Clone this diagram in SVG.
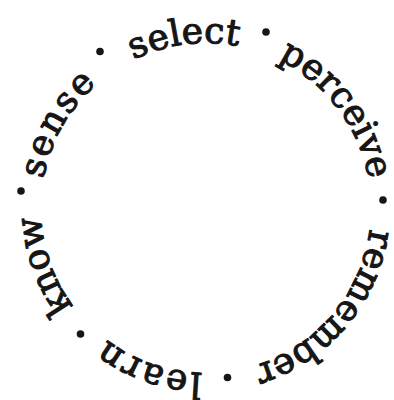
<svg xmlns="http://www.w3.org/2000/svg" xmlns:xlink="http://www.w3.org/1999/xlink" width="394" height="400" viewBox="0 0 394 400">
<style>
.w{font-family:"DejaVu Serif","Liberation Serif",serif;font-size:36px;fill:#161616;stroke:#161616;stroke-width:1.1px;stroke-linejoin:round;text-anchor:middle}
.wide{letter-spacing:2px}
.d{fill:#161616}
</style>
<defs>
<path id="ring" d="M 41,208 A 165,165 0 0,1 371,208 A 165,165 0 0,1 41,208"/>
</defs>
<rect width="394" height="400" fill="#ffffff"/>
<g id="sense"><text class="w wide"><textPath href="#ring" xlink:href="#ring" startOffset="85.4">sense</textPath></text></g>
<g id="select"><text class="w"><textPath href="#ring" xlink:href="#ring" startOffset="237.9">select</textPath></text></g>
<g id="perceive"><text class="w"><textPath href="#ring" xlink:href="#ring" startOffset="411.5">perceive</textPath></text></g>
<g id="remember"><text class="w"><textPath href="#ring" xlink:href="#ring" startOffset="633.7">remember</textPath></text></g>
<g id="learn"><text class="w wide"><textPath href="#ring" xlink:href="#ring" startOffset="833.3">learn</textPath></text></g>
<g id="know"><text class="w"><textPath href="#ring" xlink:href="#ring" startOffset="979.7">know</textPath></text></g>
<g id="dots">
<circle class="d" cx="21" cy="191" r="3.8"/>
<circle class="d" cx="100" cy="51.5" r="3.8"/>
<circle class="d" cx="266" cy="32" r="3.8"/>
<circle class="d" cx="383" cy="200" r="3.8"/>
<circle class="d" cx="227.5" cy="377.5" r="3.8"/>
<circle class="d" cx="80.5" cy="334" r="3.8"/>
</g>
</svg>
